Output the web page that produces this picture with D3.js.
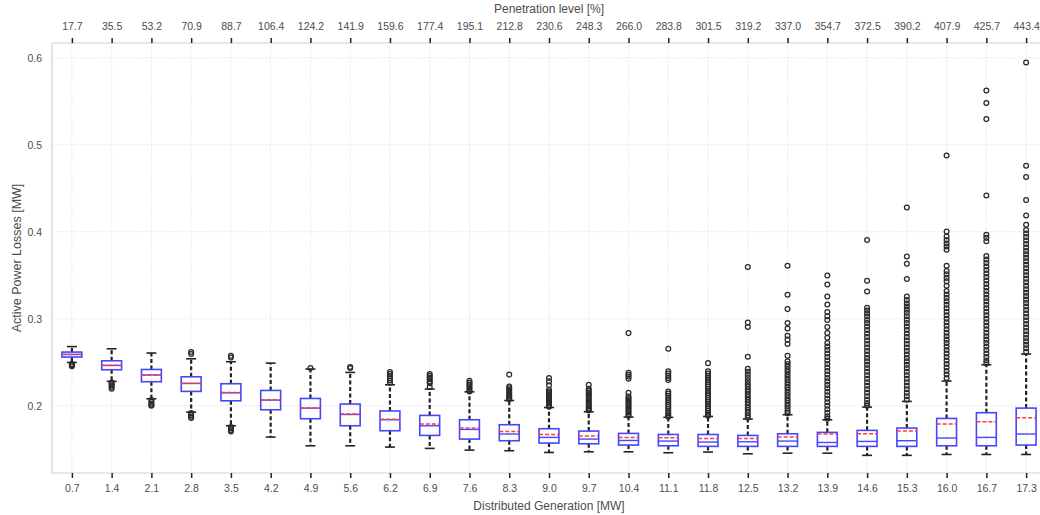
<!DOCTYPE html>
<html>
<head>
<meta charset="utf-8">
<script src="https://cdn.jsdelivr.net/npm/d3@7"></script>
<style>
  body { margin: 0; background: #fff; }
  svg text { font-family: "Liberation Sans", Arial, sans-serif; fill: #4d4d4d; }
</style>
</head>
<body>
<svg id="chart" width="1040" height="515"></svg>
<script>
// tick labels
const dgLabels = ["0.7","1.4","2.1","2.8","3.5","4.2","4.9","5.6","6.2","6.9","7.6","8.3","9.0","9.7","10.4","11.1","11.8","12.5","13.2","13.9","14.6","15.3","16.0","16.7","17.3"];
const penLabels = ["17.7","35.5","53.2","70.9","88.7","106.4","124.2","141.9","159.6","177.4","195.1","212.8","230.6","248.3","266.0","283.8","301.5","319.2","337.0","354.7","372.5","390.2","407.9","425.7","443.4"];
const yTicks = [0.2, 0.3, 0.4, 0.5, 0.6];

// box statistics (MW)
const whiskerLow = [0.2498,0.228,0.208,0.1927,0.177,0.164,0.154,0.154,0.1525,0.151,0.149,0.1483,0.1463,0.1471,0.1471,0.146,0.1468,0.1448,0.1455,0.1455,0.143,0.143,0.144,0.144,0.144];
const q1s = [0.256,0.2414,0.2276,0.2165,0.2057,0.1954,0.1851,0.177,0.1713,0.1659,0.1617,0.1598,0.1571,0.1563,0.1548,0.154,0.1533,0.1533,0.1533,0.1533,0.1533,0.1533,0.154,0.154,0.1548];
const medians = [0.259,0.2463,0.2353,0.2256,0.2149,0.2065,0.1973,0.19,0.1839,0.177,0.1728,0.1675,0.1636,0.1617,0.1601,0.1594,0.1583,0.1586,0.1594,0.1578,0.159,0.1598,0.1629,0.1636,0.1675];
const means = [0.259,0.2465,0.2355,0.2258,0.2152,0.2068,0.1975,0.1905,0.1845,0.179,0.1743,0.1705,0.167,0.1651,0.1636,0.1632,0.1624,0.1624,0.164,0.1675,0.1678,0.1709,0.179,0.1816,0.1862];
const q3s = [0.2617,0.2517,0.2417,0.2333,0.2253,0.2176,0.2084,0.202,0.194,0.1889,0.1839,0.1782,0.1736,0.1709,0.1682,0.167,0.167,0.1659,0.1678,0.1694,0.1717,0.1744,0.1854,0.192,0.1973];
const whiskerHigh = [0.268,0.2655,0.2606,0.254,0.2506,0.249,0.2422,0.2383,0.2241,0.2192,0.216,0.206,0.198,0.1931,0.187,0.1867,0.1877,0.1847,0.1897,0.1839,0.1985,0.205,0.2284,0.2471,0.2594];

// outliers per box
const outliers = [
  [0.248,0.2475,0.2465,0.2455],
  [0.2268,0.225,0.2232,0.2215,0.2195],
  [0.2065,0.2045,0.2025,0.2008,0.2],
  [0.2617,0.2595,0.1915,0.1895,0.1875,0.186],
  [0.2575,0.2555,0.1755,0.174,0.172,0.1705],
  [],
  [0.2433],
  [0.2445,0.2435],
  [0.2387,0.2365,0.234,0.2315,0.229,0.2265],
  [0.2365,0.2345,0.2325,0.2305,0.228,0.226,0.2215],
  [0.2287,0.2265,0.2245,0.2225,0.2205,0.2185,0.2165],
  [0.2358,0.2222,0.22,0.218,0.216,0.214,0.212,0.2105,0.209,0.2075],
  [0.2318,0.228,0.2235,0.2185,0.2165,0.2145,0.2125,0.2105,0.2085,0.2065,0.2045,0.2025,0.2005,0.199],
  [0.2241,0.2195,0.2175,0.2155,0.2135,0.2115,0.2095,0.2075,0.2055,0.2035,0.2015,0.1995,0.1975,0.1955,0.1945],
  [0.2835,0.238,0.2355,0.2335,0.231,0.215,0.2107,0.2085,0.2065,0.2045,0.2025,0.2005,0.1985,0.1965,0.1945,0.1925,0.1905,0.1885],
  [0.2655,0.2395,0.237,0.2345,0.232,0.2295,0.2165,0.214,0.2115,0.209,0.2065,0.204,0.2015,0.199,0.1965,0.194,0.1915,0.189,0.1875],
  [0.249,0.2395,0.237,0.2345,0.232,0.2295,0.227,0.2245,0.222,0.2195,0.217,0.2145,0.212,0.2095,0.207,0.2045,0.202,0.1995,0.197,0.1945,0.192,0.19,0.1885],
  [0.3594,0.2958,0.2905,0.2563,0.2425,0.239,0.2355,0.232,0.2285,0.225,0.222,0.219,0.216,0.213,0.21,0.207,0.204,0.201,0.198,0.195,0.192,0.189,0.1865],
  [0.361,0.3276,0.3111,0.2951,0.2887,0.2805,0.276,0.271,0.2575,0.251,0.248,0.245,0.242,0.239,0.236,0.233,0.23,0.227,0.224,0.221,0.218,0.215,0.212,0.209,0.206,0.203,0.2,0.197,0.194,0.1915],
  [0.3498,0.3394,0.3255,0.3164,0.3077,0.303,0.2985,0.2905,0.2835,0.2781,0.272,0.268,0.264,0.26,0.256,0.252,0.248,0.244,0.24,0.236,0.232,0.228,0.224,0.22,0.216,0.212,0.208,0.204,0.2,0.196,0.192,0.188,0.185],
  [0.3905,0.3437,0.3314,0.3126,0.3095,0.306,0.3025,0.2985,0.295,0.291,0.287,0.283,0.279,0.275,0.271,0.267,0.263,0.259,0.255,0.251,0.247,0.243,0.239,0.235,0.231,0.227,0.223,0.219,0.215,0.211,0.207,0.203,0.2],
  [0.428,0.3716,0.3632,0.3456,0.3256,0.3215,0.3175,0.314,0.3105,0.307,0.303,0.299,0.295,0.291,0.287,0.283,0.279,0.275,0.271,0.267,0.263,0.259,0.255,0.251,0.247,0.243,0.239,0.235,0.231,0.227,0.223,0.219,0.215,0.211,0.207],
  [0.4877,0.4004,0.3946,0.3905,0.3865,0.383,0.3793,0.361,0.355,0.351,0.347,0.343,0.338,0.332,0.328,0.324,0.32,0.316,0.312,0.308,0.304,0.3,0.296,0.292,0.288,0.284,0.28,0.276,0.272,0.268,0.264,0.26,0.256,0.252,0.248,0.244,0.24,0.236,0.232],
  [0.5624,0.548,0.5295,0.4417,0.3966,0.393,0.389,0.372,0.368,0.364,0.36,0.356,0.352,0.348,0.344,0.34,0.336,0.332,0.328,0.324,0.32,0.316,0.312,0.308,0.304,0.3,0.296,0.292,0.288,0.284,0.28,0.276,0.272,0.268,0.264,0.26,0.256,0.252,0.249],
  [0.5946,0.4759,0.4629,0.4364,0.4187,0.408,0.402,0.398,0.394,0.39,0.386,0.382,0.378,0.374,0.37,0.366,0.362,0.358,0.354,0.35,0.346,0.342,0.338,0.334,0.33,0.326,0.322,0.318,0.314,0.31,0.306,0.302,0.298,0.294,0.29,0.286,0.282,0.278,0.274,0.27,0.266,0.262]
];

const svg = d3.select('#chart');
const plot = { left: 52, right: 1046, top: 43, bottom: 473 };

const positions = dgLabels.map((d, i) => i + 1);
const x = d3.scaleLinear().domain([0.5, 25.5]).range([plot.left, plot.right]);
const y = d3.scaleLinear().domain([0.1227, 0.617]).range([plot.bottom, plot.top]);
const boxW = x(1.25) - x(1);   // half width of box
const capW = boxW / 2;

const boxes = positions.map((p, i) => ({
  pos: p, lo: whiskerLow[i], q1: q1s[i], med: medians[i], mean: means[i],
  q3: q3s[i], hi: whiskerHigh[i], out: outliers[i]
}));

// grid
const grid = svg.append('g').attr('stroke', '#e2e2e2').attr('stroke-width', 0.8).attr('stroke-dasharray', '2,1.5');
grid.selectAll('.hg').data(yTicks).join('line')
  .attr('x1', plot.left).attr('x2', plot.right)
  .attr('y1', d => y(d)).attr('y2', d => y(d));
grid.selectAll('.vg').data(positions).join('line')
  .attr('x1', d => x(d)).attr('x2', d => x(d))
  .attr('y1', plot.top).attr('y2', plot.bottom);

// spines
const spines = svg.append('g').attr('stroke', '#d2d2d2').attr('stroke-width', 1.2);
spines.append('line').attr('x1', plot.left).attr('x2', plot.left).attr('y1', plot.top).attr('y2', plot.bottom);
spines.append('line').attr('x1', plot.left).attr('x2', plot.right).attr('y1', plot.bottom).attr('y2', plot.bottom);
spines.append('line').attr('x1', plot.left).attr('x2', plot.right).attr('y1', plot.top).attr('y2', plot.top);

// boxes
const g = svg.append('g').selectAll('g').data(boxes).join('g');

g.append('line').attr('class', 'whisker')
  .attr('x1', d => x(d.pos)).attr('x2', d => x(d.pos))
  .attr('y1', d => y(d.q3)).attr('y2', d => y(d.hi))
  .attr('stroke', '#222').attr('stroke-width', 2.2).attr('stroke-dasharray', '4,2.5');
g.append('line').attr('class', 'whisker')
  .attr('x1', d => x(d.pos)).attr('x2', d => x(d.pos))
  .attr('y1', d => y(d.q1)).attr('y2', d => y(d.lo))
  .attr('stroke', '#222').attr('stroke-width', 2.2).attr('stroke-dasharray', '4,2.5');

['hi', 'lo'].forEach(k => {
  g.append('line')
    .attr('x1', d => x(d.pos) - capW).attr('x2', d => x(d.pos) + capW)
    .attr('y1', d => y(d[k])).attr('y2', d => y(d[k]))
    .attr('stroke', '#222').attr('stroke-width', 1.6);
});

g.append('rect')
  .attr('x', d => x(d.pos) - boxW).attr('width', 2 * boxW)
  .attr('y', d => y(d.q3)).attr('height', d => y(d.q1) - y(d.q3))
  .attr('fill', 'none').attr('stroke', '#4646ff').attr('stroke-width', 1.6);

g.append('line')
  .attr('x1', d => x(d.pos) - boxW).attr('x2', d => x(d.pos) + boxW)
  .attr('y1', d => y(d.med)).attr('y2', d => y(d.med))
  .attr('stroke', '#4646ff').attr('stroke-width', 1.4);

g.append('line')
  .attr('x1', d => x(d.pos) - boxW).attr('x2', d => x(d.pos) + boxW)
  .attr('y1', d => y(d.mean)).attr('y2', d => y(d.mean))
  .attr('stroke', '#ff3b3b').attr('stroke-width', 1.5).attr('stroke-dasharray', '4,2');

g.selectAll('circle').data(d => d.out.map(v => ({ pos: d.pos, v: v }))).join('circle')
  .attr('cx', d => x(d.pos)).attr('cy', d => y(d.v)).attr('r', 2.4)
  .attr('fill', 'none').attr('stroke', '#2a2a2a').attr('stroke-width', 1.25);

// axes
function styleAxis(sel) {
  sel.select('.domain').remove();
  sel.selectAll('.tick line').attr('stroke', '#222').attr('stroke-width', 1.5);
  sel.selectAll('.tick text').style('font-size', '10.5px').attr('fill', '#4d4d4d');
}

svg.append('g').attr('transform', `translate(0,${plot.bottom})`)
  .call(d3.axisBottom(x).tickValues(positions).tickFormat((d, i) => dgLabels[i]).tickSize(5).tickPadding(7))
  .call(styleAxis);

svg.append('g').attr('transform', `translate(0,${plot.top})`)
  .call(d3.axisTop(x).tickValues(positions).tickFormat((d, i) => penLabels[i]).tickSize(5).tickPadding(8))
  .call(styleAxis);

svg.append('g').attr('transform', `translate(${plot.left},0)`)
  .call(d3.axisLeft(y).tickValues(yTicks).tickFormat(d3.format('.1f')).tickSize(0).tickPadding(10))
  .call(styleAxis);

// axis titles
const midX = (plot.left + plot.right) / 2;
svg.append('text').attr('x', midX).attr('y', 510).attr('text-anchor', 'middle')
  .style('font-size', '12px').text('Distributed Generation [MW]');
svg.append('text').attr('x', midX).attr('y', 13).attr('text-anchor', 'middle')
  .style('font-size', '12px').text('Penetration level [%]');
svg.append('text').attr('transform', `translate(21,${(plot.top + plot.bottom) / 2}) rotate(-90)`)
  .attr('text-anchor', 'middle').style('font-size', '12.5px').text('Active Power Losses [MW]');
</script>
</body>
</html>
